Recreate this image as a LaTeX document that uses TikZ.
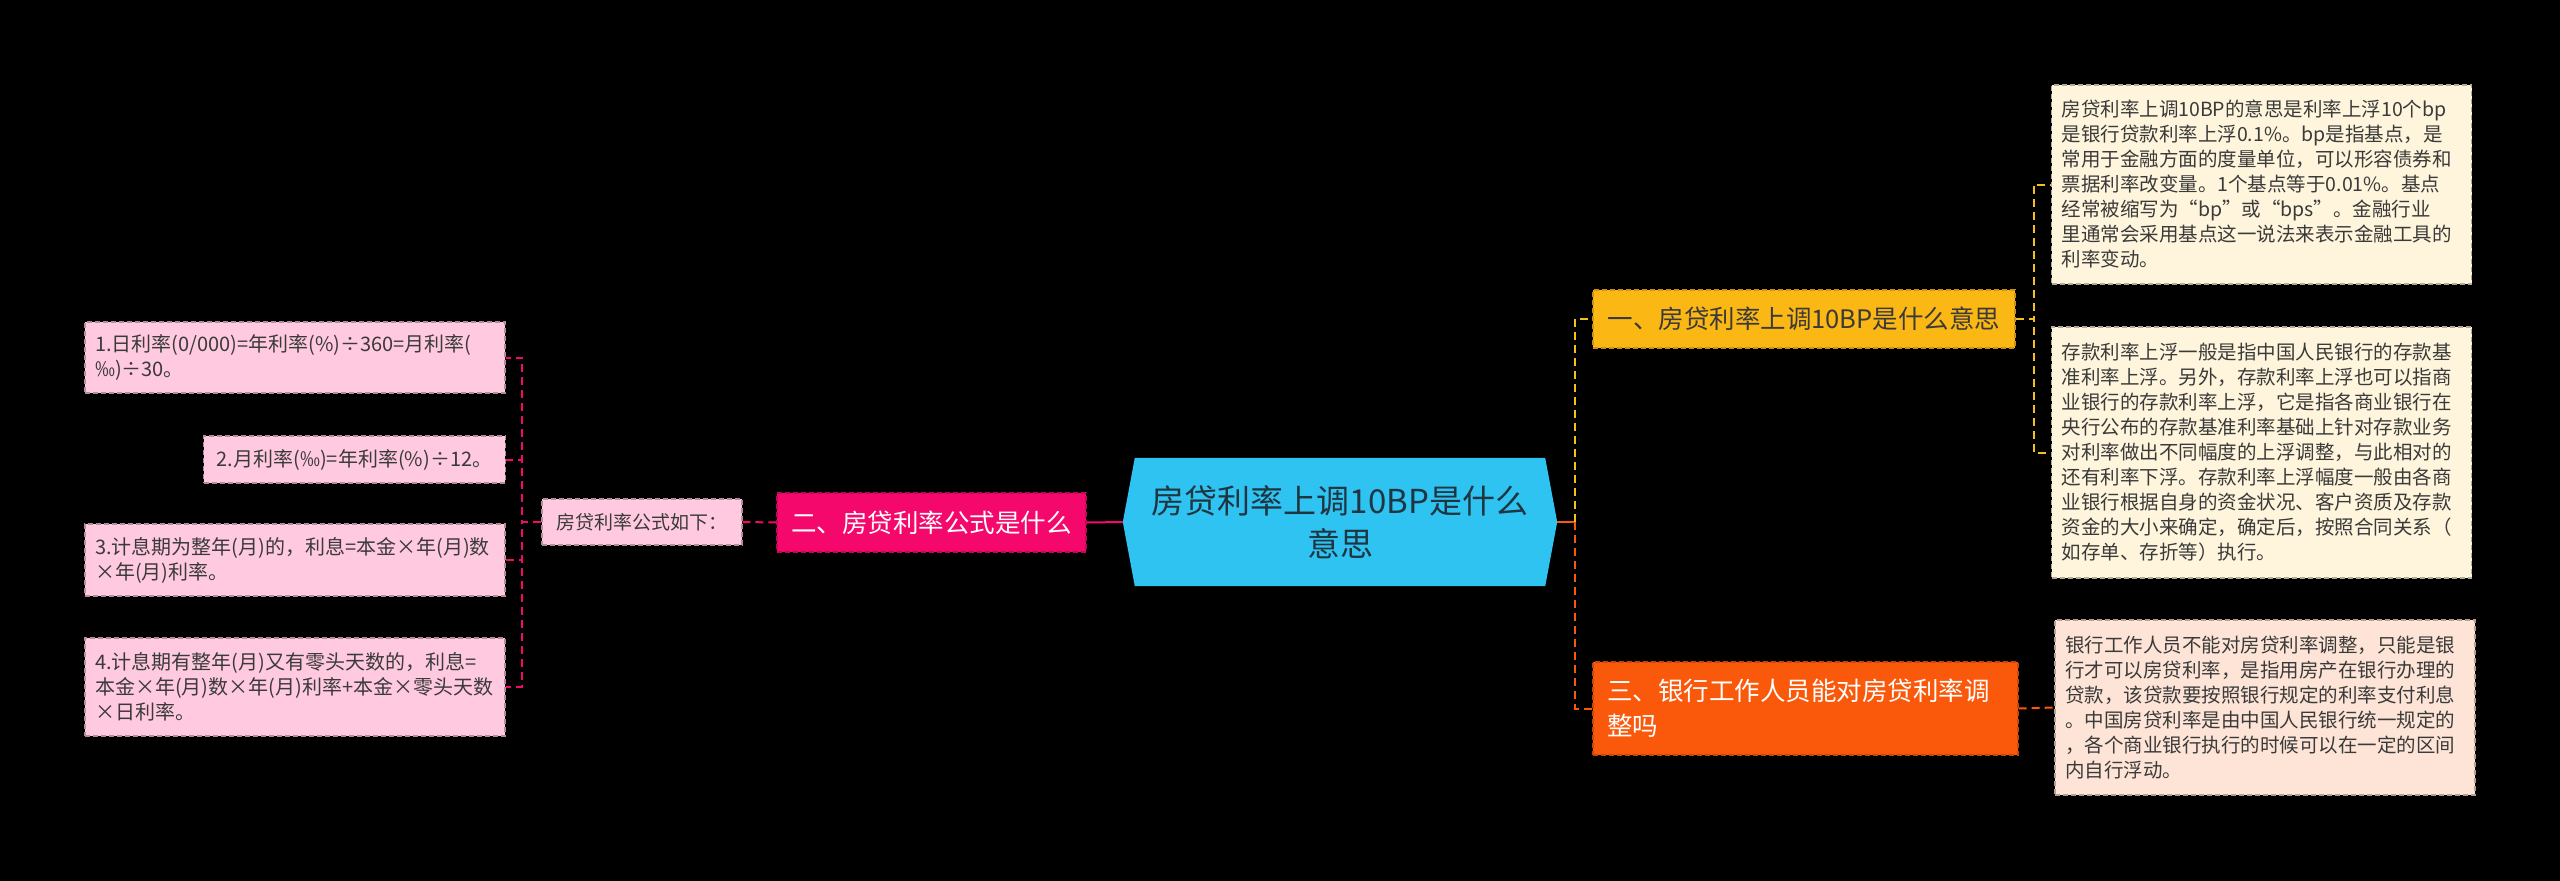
\documentclass[tikz,border=0pt]{standalone}
\usepackage{fontspec}
\setmainfont{Noto Sans CJK SC}
\definecolor{bgc}{HTML}{000000}
\definecolor{hexc}{HTML}{2FC3F1}
\definecolor{hextext}{HTML}{1F3642}
\definecolor{yelc}{HTML}{FBB714}
\definecolor{yelline}{HTML}{F3C21A}
\definecolor{orac}{HTML}{FA580A}
\definecolor{pinkc}{HTML}{F5086C}
\definecolor{lpink}{HTML}{FFC9DF}
\definecolor{cream}{HTML}{FFF5DC}
\definecolor{peach}{HTML}{FDE4D6}
\definecolor{darktext}{HTML}{3A3A3A}
\tikzset{
  box/.style={rectangle, inner sep=0pt, line width=1.4pt, dash pattern=on 5pt off 3pt},
  leaf/.style={box, align=left, text=darktext, font=\fontsize{19.5}{25}\selectfont},
  lleaf/.style={leaf, font=\fontsize{20}{25}\selectfont},
  branch/.style={box, font=\fontsize{25.5}{35}\selectfont},
  conn/.style={line width=2pt},
  dconn/.style={line width=2pt, dash pattern=on 8pt off 5pt}
}
\begin{document}
\begin{tikzpicture}[x=1pt,y=-1pt]
\fill[bgc] (0,0) rectangle (2560,881);
\useasboundingbox (0,0) rectangle (2560,881);

% center
\node[inner sep=0pt, minimum width=434pt, minimum height=128pt] (c) at (1340,522) {};
\fill[hexc] (c.west) -- ([xshift=12pt]c.north west) -- ([xshift=-12pt]c.north east) -- (c.east) -- ([xshift=-12pt]c.south east) -- ([xshift=12pt]c.south west) -- cycle;
\node[align=center, text=hextext, font=\fontsize{33}{43}\selectfont] (ct) at (c.center) {房贷利率上调10BP是什么\\意思};

% right branches
\node[branch, fill=yelc, draw=yelc!80!black, text=darktext, minimum width=422pt, minimum height=58pt] (b1) at (1804,319) {一、房贷利率上调10BP是什么意思};
\node[branch, fill=orac, draw=orac!80!black, text=white, text width=397pt, inner xsep=14pt, align=left, minimum height=93pt] (b3) at (1805.5,708.5) {三、银行工作人员能对房贷利率调\\整吗};

% left branch
\node[branch, fill=pinkc, draw=pinkc!80!black, text=white, minimum width=309pt, minimum height=59pt] (b2) at (931.5,522.5) {二、房贷利率公式是什么};
\node[leaf, fill=lpink, draw=lpink!70!black, minimum width=200pt, minimum height=46pt, font=\fontsize{19}{25}\selectfont] (f) at (642,522) {房贷利率公式如下：};

% right leaves
\node[leaf, fill=cream, draw=cream!70!black, text width=400pt, inner xsep=10pt, minimum height=199pt] (r1) at (2261.5,184.5) {房贷利率上调10BP的意思是利率上浮10个bp\\是银行贷款利率上浮0.1\%。bp是指基点，是\\常用于金融方面的度量单位，可以形容债券和\\票据利率改变量。1个基点等于0.01\%。基点\\经常被缩写为“bp”或“bps”。金融行业\\里通常会采用基点这一说法来表示金融工具的\\利率变动。};
\node[leaf, fill=cream, draw=cream!70!black, text width=400pt, inner xsep=10pt, minimum height=251pt] (r2) at (2261.5,452.5) {存款利率上浮一般是指中国人民银行的存款基\\准利率上浮。另外，存款利率上浮也可以指商\\业银行的存款利率上浮，它是指各商业银行在\\央行公布的存款基准利率基础上针对存款业务\\对利率做出不同幅度的上浮调整，与此相对的\\还有利率下浮。存款利率上浮幅度一般由各商\\业银行根据自身的资金状况、客户资质及存款\\资金的大小来确定，确定后，按照合同关系（\\如存单、存折等）执行。};
\node[leaf, fill=peach, draw=peach!70!black, text width=400pt, inner xsep=10pt, minimum height=175pt] (r3) at (2265,707.5) {银行工作人员不能对房贷利率调整，只能是银\\行才可以房贷利率，是指用房产在银行办理的\\贷款，该贷款要按照银行规定的利率支付利息\\。中国房贷利率是由中国人民银行统一规定的\\，各个商业银行执行的时候可以在一定的区间\\内自行浮动。};

% left leaves
\node[lleaf, fill=lpink, draw=lpink!70!black, text width=400pt, inner xsep=10pt, minimum height=71pt] (l1) at (295,357.5) {1.日利率(0/000)=年利率(\%)÷360=月利率(\\‰)÷30。};
\node[lleaf, fill=lpink, draw=lpink!70!black, inner xsep=13pt, minimum width=301pt, minimum height=47pt] (l2) at (354.5,459.5) {2.月利率(‰)=年利率(\%)÷12。};
\node[lleaf, fill=lpink, draw=lpink!70!black, text width=400pt, inner xsep=10pt, minimum height=72pt] (l3) at (295,560) {3.计息期为整年(月)的，利息=本金×年(月)数\\×年(月)利率。};
\node[lleaf, fill=lpink, draw=lpink!70!black, text width=400pt, inner xsep=10pt, minimum height=98pt] (l4) at (295,687) {4.计息期有整年(月)又有零头天数的，利息=\\本金×年(月)数×年(月)利率+本金×零头天数\\×日利率。};

% connectors right
\coordinate (jr) at (1575,522);
\draw[conn, orac] (c.east) -- (jr);
\draw[dconn, yelline] (jr) |- (b1.west);
\draw[dconn, orac] (jr) |- (b3.west);
\draw[dconn, yelline] (b1.east) -- ++(18,0) |- (r1.west);
\draw[dconn, yelline] (b1.east) -- ++(18,0) |- (r2.west);
\draw[dconn, orac] (b3.east) -- (r3.west);

% connectors left
\draw[conn, pinkc] (c.west) -- (b2.east);
\draw[dconn, pinkc] (b2.west) -- (f.east);
\draw[dconn, pinkc] (f.west) -- ++(-19,0) |- (l1.east);
\draw[dconn, pinkc] (f.west) -- ++(-19,0) |- (l2.east);
\draw[dconn, pinkc] (f.west) -- ++(-19,0) |- (l3.east);
\draw[dconn, pinkc] (f.west) -- ++(-19,0) |- (l4.east);
\end{tikzpicture}
\end{document}
